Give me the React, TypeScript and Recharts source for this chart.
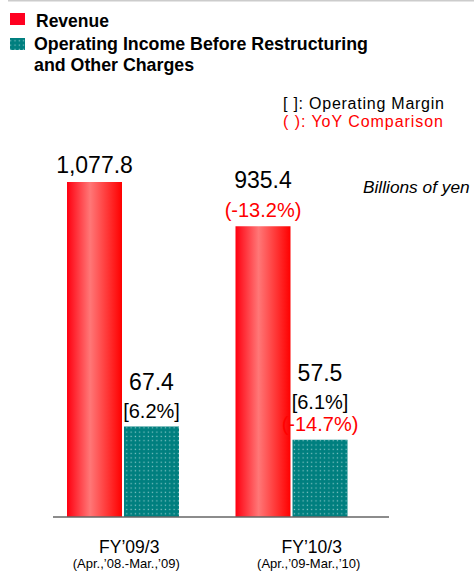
import React from 'react';
import { BarChart, Bar, XAxis, YAxis, LabelList } from 'recharts';

const categories = ['FY’09/3', 'FY’10/3'];
const periods = ['(Apr.,’08.-Mar.,’09)', '(Apr.,’09-Mar.,’10)'];
const revenue = [1077.8, 935.4];
const operatingIncome = [67.4, 57.5];
const operatingMargin = [6.2, 6.1];
const revenueYoY: (number | null)[] = [null, -13.2];
const incomeYoY: (number | null)[] = [null, -14.7];

const chartData = categories.map((name, i) => ({
  name,
  period: periods[i],
  revenue: revenue[i],
  income: operatingIncome[i],
  margin: operatingMargin[i],
  revYoY: revenueYoY[i],
  incYoY: incomeYoY[i]
}));

const FONT = "'Liberation Sans', Arial, sans-serif";

// label column above each bar; lines listed top to bottom
const StackLabel = (props: any, kind: 'rev' | 'inc') => {
  const { x, y, width, index } = props;
  const d = chartData[index];
  const cx = x + width / 2;
  const lines: { text: string; color: string; size: number }[] = [];
  if (kind === 'rev') {
    lines.push({ text: d.revenue.toLocaleString('en-US', { minimumFractionDigits: 1 }), color: '#000', size: 23 });
    if (d.revYoY != null) lines.push({ text: `(${d.revYoY.toFixed(1)}%)`, color: '#ff0000', size: 20 });
  } else {
    lines.push({ text: d.income.toFixed(1), color: '#000', size: 23 });
    lines.push({ text: `[${d.margin.toFixed(1)}%]`, color: '#000', size: 20 });
    if (d.incYoY != null) lines.push({ text: `(${d.incYoY.toFixed(1)}%)`, color: '#ff0000', size: 20 });
  }
  const out: React.ReactNode[] = [];
  let base = y - 9;
  for (let k = lines.length - 1; k >= 0; k--) {
    const l = lines[k];
    out.push(
      <text key={k} x={cx} y={base} textAnchor="middle" fill={l.color} fontSize={l.size} fontFamily={FONT}>
        {l.text}
      </text>
    );
    if (k > 0) {
      const prevIsValue = k - 1 === 0;
      base -= kind === 'rev' ? 29 : prevIsValue ? 28 : 22;
    }
  }
  return <g>{out}</g>;
};

const tickShift = [6, 20];

const CategoryTick = (props: any) => {
  const { x, y, payload, index } = props;
  const cx = x + tickShift[index];
  return (
    <g>
      <text x={cx} y={y + 28} textAnchor="middle" fontSize={17.5} fontFamily={FONT} fill="#000">
        {payload.value}
      </text>
      <text x={cx - 3} y={y + 43} textAnchor="middle" fontSize={13} fontFamily={FONT} fill="#000">
        {periods[index]}
      </text>
    </g>
  );
};

export default function App() {
  return (
    <div style={{ position: 'absolute', left: 0, top: 0, width: 474, height: 573, background: '#fff' }}>
      <BarChart
        width={474}
        height={573}
        data={chartData}
        margin={{ top: 144, right: 85, left: 53, bottom: 6 }}
        barGap={2}
        barSize={55}
      >
        <defs>
          <linearGradient id="revGrad" x1="0" y1="0" x2="1" y2="0">
            <stop offset="0%" stopColor="#ff0010" />
            <stop offset="42%" stopColor="#ff7777" />
            <stop offset="100%" stopColor="#ff0000" />
          </linearGradient>
          <pattern id="tealDots" width="4.3" height="4.3" patternUnits="userSpaceOnUse">
            <rect width="4.3" height="4.3" fill="#007f7f" />
            <rect x="1.5" y="1.5" width="1.2" height="1.2" fill="#8cc9c9" />
          </pattern>
        </defs>
        <XAxis
          dataKey="name"
          height={50}
          padding={{ left: -14, right: 13 }}
          tickLine={false}
          axisLine={{ stroke: '#666', strokeWidth: 1.5 }}
          tick={CategoryTick}
          interval={0}
        />
        <YAxis yAxisId="rev" hide domain={[0, 1200]} />
        <YAxis yAxisId="inc" hide domain={[0, 278]} />
        <Bar yAxisId="rev" dataKey="revenue" fill="url(#revGrad)" isAnimationActive={false}>
          <LabelList dataKey="revenue" content={(p: any) => StackLabel(p, 'rev')} />
        </Bar>
        <Bar yAxisId="inc" dataKey="income" fill="url(#tealDots)" isAnimationActive={false}>
          <LabelList dataKey="income" content={(p: any) => StackLabel(p, 'inc')} />
        </Bar>
      </BarChart>
      <svg width={474} height={573} style={{ position: 'absolute', left: 0, top: 0, pointerEvents: 'none' }}>
        <line x1={8} y1={0.75} x2={474} y2={0.75} stroke="#cccccc" strokeWidth={1.5} />
        <rect x={10} y={13} width={15} height={12} fill="#ff0020" />
        <text x={36} y={27} fontSize={17.5} fontWeight="bold" fontFamily={FONT}>Revenue</text>
        <rect x={10} y={38} width={15} height={12} fill="url(#tealDots)" />
        <text x={34} y={50} fontSize={17.8} fontWeight="bold" fontFamily={FONT}>Operating Income Before Restructuring</text>
        <text x={34} y={71} fontSize={17.8} fontWeight="bold" fontFamily={FONT}>and Other Charges</text>
        <text x={283} y={108.5} fontSize={16} textLength={161} lengthAdjust="spacing" fontFamily={FONT} fill="#000">[ ]: Operating Margin</text>
        <text x={283} y={127} fontSize={16} textLength={160} lengthAdjust="spacing" fontFamily={FONT} fill="#ff0000">( ): YoY Comparison</text>
        <text x={363} y={193} fontSize={17.3} fontStyle="italic" fontFamily={FONT} fill="#000">Billions of yen</text>
      </svg>
    </div>
  );
}
